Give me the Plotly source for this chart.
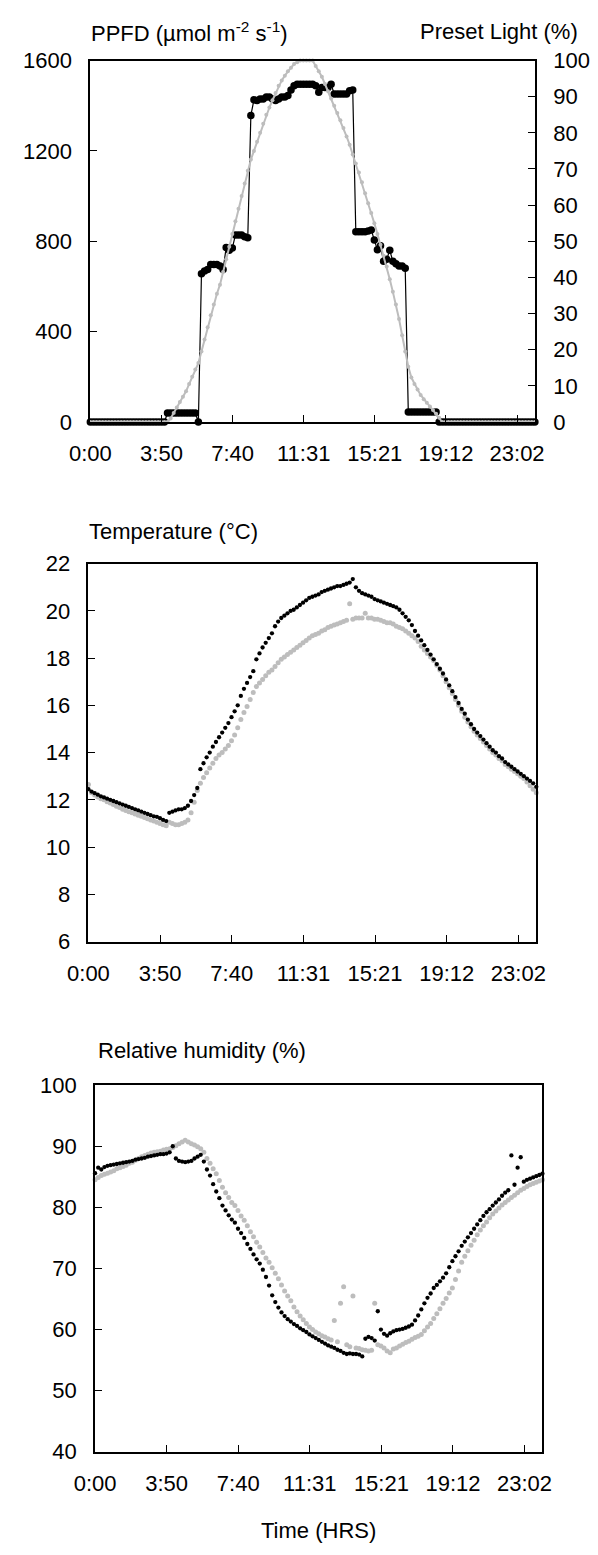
import plotly.graph_objects as go

# ---------------- data (10-minute samples, one row per hour) ----------------
MINUTES = list(range(0, 1441, 10))

TICK_MIN = [0, 230.4, 460.8, 691.2, 921.6, 1152, 1382.4]
TICK_TEXT = ["0:00", "3:50", "7:40", "11:31", "15:21", "19:12", "23:02"]

PPFD = [
    0, 0, 0, 0, 0, 0,
    0, 0, 0, 0, 0, 0,
    0, 0, 0, 0, 0, 0,
    0, 0, 0, 0, 0, 0,
    0, 40, 40, 40, 40, 40,
    40, 40, 40, 40, 40, 0,
    656, 668, 675, 697, 697, 697,
    690, 675, 772, 760, 770, 828,
    828, 828, 820, 816, 1357, 1426,
    1423, 1430, 1430, 1438, 1438, 1430,
    1423, 1430, 1438, 1438, 1445, 1470,
    1488, 1495, 1495, 1495, 1495, 1495,
    1495, 1488, 1459, 1481, 1481, 1481,
    1495, 1452, 1452, 1452, 1452, 1452,
    1466, 1470, 842, 842, 842, 842,
    845, 850, 806, 762, 780, 711,
    720, 760, 711, 700, 690, 690,
    680, 44, 44, 44, 44, 44,
    44, 44, 44, 44, 44, 0,
    0, 0, 0, 0, 0, 0,
    0, 0, 0, 0, 0, 0,
    0, 0, 0, 0, 0, 0,
    0, 0, 0, 0, 0, 0,
    0, 0, 0, 0, 0, 0,
    0,
]

PRESET_LIGHT = [
    0, 0, 0, 0, 0, 0,
    0, 0, 0, 0, 0, 0,
    0, 0, 0, 0, 0, 0,
    0, 0, 0, 0, 0, 0,
    0, 0, 1, 2.5, 4, 5.5,
    7, 8.5, 10.5, 12.5, 14.5, 16.3,
    19.5, 22.8, 26.2, 29.5, 32.5, 35.5,
    38, 41.5, 45, 48.5, 52, 55.5,
    59, 62.5, 66, 69.5, 72.6, 75,
    77.5, 80, 82.5, 85, 87, 89,
    91, 93, 94.5, 95.8, 97, 98,
    99, 99.5, 100, 100, 100, 100,
    100, 98.5, 97, 95.5, 93.5, 91.5,
    89.5, 87.5, 85.5, 83.5, 81.3, 79,
    76.7, 74, 71.5, 69, 66.3, 63.3,
    60.5, 57.8, 55, 52, 49, 46,
    43, 39.5, 36, 32.5, 28.5, 24,
    19.5, 15.3, 12.3, 10.5, 9, 7.5,
    6.3, 5.3, 4.3, 3.3, 2.3, 1.2,
    0, 0, 0, 0, 0, 0,
    0, 0, 0, 0, 0, 0,
    0, 0, 0, 0, 0, 0,
    0, 0, 0, 0, 0, 0,
    0, 0, 0, 0, 0, 0,
    0,
]

TEMP_BLACK = [
    12.45, 12.35, 12.28, 12.22, 12.15, 12.1,
    12.05, 12.0, 11.95, 11.9, 11.85, 11.8,
    11.75, 11.7, 11.65, 11.6, 11.55, 11.5,
    11.45, 11.4, 11.35, 11.3, 11.28, 11.22,
    11.15, 11.1, 11.45, 11.5, 11.55, 11.6,
    11.6, 11.65, 11.75, 11.95, 12.2, 12.5,
    13.3, 13.55, 13.8, 14.0, 14.25, 14.45,
    14.65, 14.85, 15.05, 15.25, 15.5, 15.75,
    16.0, 16.4, 16.7, 16.95, 17.2, 17.45,
    17.95, 18.2, 18.45, 18.65, 18.85, 19.05,
    19.35, 19.55, 19.7, 19.8, 19.9, 20.0,
    20.05, 20.15, 20.25, 20.35, 20.45, 20.55,
    20.6, 20.65, 20.7, 20.8, 20.85, 20.9,
    20.95, 21.0, 21.05, 21.05, 21.1, 21.15,
    21.2, 21.35, 21.0, 20.85, 20.75, 20.7,
    20.65, 20.6, 20.5, 20.45, 20.4, 20.35,
    20.3, 20.25, 20.2, 20.15, 20.05, 19.9,
    19.75, 19.6, 19.4, 19.15, 18.95, 18.75,
    18.55, 18.35, 18.15, 17.95, 17.75, 17.55,
    17.35, 17.1, 16.85, 16.6, 16.35, 16.1,
    15.85, 15.65, 15.4, 15.2, 15.0, 14.85,
    14.7, 14.55, 14.4, 14.25, 14.1, 14.0,
    13.85, 13.75, 13.6, 13.5, 13.4, 13.3,
    13.2, 13.1, 13.0, 12.9, 12.8, 12.7,
    12.55,
]

TEMP_GREY = [
    12.65, 12.3, 12.2, 12.12, 12.05, 12.0,
    11.92, 11.87, 11.8, 11.73, 11.67, 11.6,
    11.55, 11.5, 11.45, 11.4, 11.35, 11.3,
    11.25, 11.2, 11.15, 11.1, 11.05, 11.0,
    10.95, 10.9, 11.05, 11.0, 10.95, 10.95,
    11.0, 11.05, 11.15, 11.45, 11.9, 12.4,
    12.7, 12.95, 13.15, 13.35, 13.55, 13.75,
    13.9, 14.0, 14.15, 14.3, 14.5, 14.75,
    15.05, 15.4, 15.7, 15.95, 16.25, 16.55,
    16.8, 16.95, 17.1, 17.25, 17.4, 17.5,
    17.65, 17.8, 17.95, 18.05, 18.15, 18.25,
    18.35, 18.45, 18.55, 18.65, 18.75, 18.85,
    18.95, 19.0, 19.05, 19.15, 19.2, 19.3,
    19.35, 19.4, 19.45, 19.5, 19.55, 19.6,
    20.3, 19.65, 19.7, 19.7, 19.7, 19.9,
    19.7, 19.7, 19.65, 19.65, 19.6, 19.55,
    19.5, 19.5, 19.45, 19.35, 19.3, 19.25,
    19.15, 19.05, 18.95, 18.85, 18.7, 18.5,
    18.35, 18.2, 18.05, 17.9, 17.7, 17.5,
    17.25, 17.0, 16.75, 16.5, 16.25, 16.0,
    15.75, 15.5, 15.3, 15.1, 14.9, 14.75,
    14.6, 14.45, 14.3, 14.15, 14.0, 13.9,
    13.75, 13.65, 13.5, 13.4, 13.3, 13.2,
    13.1, 13.0, 12.9, 12.75, 12.6, 12.45,
    12.3,
]

RH_BLACK = [
    85.6, 86.5, 86.2, 86.6, 86.8, 86.9,
    87.0, 87.1, 87.2, 87.3, 87.4, 87.5,
    87.6, 87.8, 87.9, 88.0, 88.1, 88.3,
    88.4, 88.5, 88.6, 88.7, 88.7, 88.8,
    89.0, 90.0, 88.0, 87.6, 87.5, 87.4,
    87.5, 87.6, 88.0, 88.3, 88.6, 87.5,
    86.2, 85.2, 83.8, 82.6, 81.5, 80.3,
    79.5, 78.7, 78.0, 77.5, 76.5, 75.8,
    75.0, 74.0, 73.2, 72.3, 71.5, 70.8,
    69.8, 68.6, 67.2, 65.6, 64.5, 63.6,
    62.8, 62.2, 61.7, 61.3, 60.9, 60.6,
    60.2, 59.9, 59.6, 59.2, 58.9, 58.6,
    58.3, 58.0, 57.7, 57.4, 57.2, 57.0,
    56.7, 56.5, 56.2, 56.0, 56.1, 56.0,
    56.0, 55.9, 55.6, 58.5, 58.8, 58.6,
    58.2, 63.0, 60.0, 59.3, 59.0, 59.4,
    59.7, 59.9, 60.0, 60.1, 60.3, 60.5,
    60.8, 61.5, 62.3, 63.3, 64.3, 65.2,
    65.9, 66.8, 67.3, 67.9, 68.5, 69.2,
    70.2, 71.2, 72.0, 72.8, 73.7, 74.4,
    75.1, 75.8, 76.5, 77.2, 77.9, 78.6,
    79.2, 79.7, 80.3, 80.8, 81.3, 81.9,
    82.4, 82.8, 88.5, 83.7, 86.5, 88.2,
    84.2, 84.5, 84.7, 84.9, 85.1, 85.3,
    85.5,
]

RH_GREY = [
    84.5, 84.9, 85.2, 85.4, 85.6, 85.8,
    86.0, 86.3, 86.5, 86.7, 86.9, 87.2,
    87.4, 87.7, 88.0, 88.3, 88.5, 88.7,
    88.9, 89.0, 89.1, 89.2, 89.4, 89.5,
    89.6, 89.8, 90.1, 90.4, 90.7, 91.0,
    90.7, 90.4, 90.2, 89.9, 89.6, 89.0,
    88.0, 87.2, 86.3, 85.5, 84.4, 83.3,
    82.4, 81.6, 80.8, 80.3, 79.5, 78.6,
    77.9, 77.0, 76.0, 75.2, 74.3, 73.5,
    72.6, 71.7, 71.0, 70.1, 69.2, 68.3,
    67.3, 66.3, 65.5, 64.7, 63.7, 62.9,
    62.2, 61.6, 61.0, 60.4, 60.0, 59.6,
    59.3, 59.0, 58.8, 58.5, 58.3, 61.5,
    58.0, 64.3, 67.0, 57.5, 57.2, 65.5,
    57.0, 56.9, 56.7, 56.6, 56.5, 56.6,
    64.3, 57.5, 57.3, 57.0, 56.5, 56.2,
    56.8, 57.0, 57.3, 57.6, 57.9, 58.1,
    58.4, 58.7, 58.9, 59.2, 59.8, 60.4,
    61.0, 61.8, 62.6, 63.4, 64.3, 65.1,
    66.0, 66.8, 68.2, 69.6, 71.0, 72.0,
    72.9, 73.8, 74.6, 75.5, 76.3, 77.0,
    77.6, 78.3, 78.9, 79.4, 79.9, 80.4,
    80.8, 81.2, 81.6, 82.0, 82.4, 82.8,
    83.1, 83.4, 83.7, 83.9, 84.1, 84.3,
    84.5,
]

# ---------------- styling ----------------
FONT = "Liberation Sans, Arial, sans-serif"
FS = 22
BLACK = "#000000"
GREY = "#bdbdbd"
W, H = 598, 1555


def px_x(v):
    return v / W


def px_y(v):
    return 1 - v / H


fig = go.Figure()

# Panel 1 -------------------------------------------------------------
fig.add_trace(go.Scatter(
    x=MINUTES, y=PPFD, mode="lines+markers", xaxis="x", yaxis="y",
    line=dict(color=BLACK, width=1.2),
    marker=dict(color=BLACK, size=7.5), cliponaxis=False, showlegend=False))
fig.add_trace(go.Scatter(
    x=MINUTES, y=PRESET_LIGHT, mode="lines+markers", xaxis="x", yaxis="y2",
    line=dict(color=GREY, width=2),
    marker=dict(color=GREY, size=4), cliponaxis=False, showlegend=False))

# Panel 2 -------------------------------------------------------------
fig.add_trace(go.Scatter(
    x=MINUTES, y=TEMP_GREY, mode="markers", xaxis="x2", yaxis="y3",
    marker=dict(color=GREY, size=5), cliponaxis=False, showlegend=False))
fig.add_trace(go.Scatter(
    x=MINUTES, y=TEMP_BLACK, mode="markers", xaxis="x2", yaxis="y3",
    marker=dict(color=BLACK, size=4.3), cliponaxis=False, showlegend=False))

# Panel 3 -------------------------------------------------------------
fig.add_trace(go.Scatter(
    x=MINUTES, y=RH_GREY, mode="markers", xaxis="x3", yaxis="y4",
    marker=dict(color=GREY, size=5), cliponaxis=False, showlegend=False))
fig.add_trace(go.Scatter(
    x=MINUTES, y=RH_BLACK, mode="markers", xaxis="x3", yaxis="y4",
    marker=dict(color=BLACK, size=4.3), cliponaxis=False, showlegend=False))

common = dict(showline=True, linecolor=BLACK, linewidth=1.8, mirror=True,
              showgrid=False, zeroline=False, ticks="inside", ticklen=7,
              tickwidth=1.3, tickcolor=BLACK,
              tickfont=dict(family=FONT, size=FS, color=BLACK))

xcommon = dict(common, range=[0, 1440], tickmode="array",
               tickvals=TICK_MIN, ticktext=TICK_TEXT, ticklabelstandoff=11)

fig.update_layout(
    width=W, height=H, margin=dict(l=0, r=0, t=0, b=0),
    plot_bgcolor="white", paper_bgcolor="white",
    font=dict(family=FONT, size=FS, color=BLACK),
    xaxis=dict(xcommon, domain=[px_x(73), px_x(541)], anchor="y"),
    yaxis=dict(common, domain=[px_y(416.7), px_y(49.3)], anchor="x",
               range=[0, 1600], dtick=400, ticklabelstandoff=12),
    yaxis2=dict(common, overlaying="y", side="right", anchor="x",
                range=[0, 100], dtick=10, mirror=False, ticklabelstandoff=12),
    xaxis2=dict(xcommon, domain=[px_x(71), px_x(542.5)], anchor="y3"),
    yaxis3=dict(common, domain=[px_y(944.7), px_y(560.7)], anchor="x2",
                range=[6, 22], dtick=2, ticklabelstandoff=12),
    xaxis3=dict(xcommon, domain=[px_x(78), px_x(549)], anchor="y4"),
    yaxis4=dict(common, domain=[px_y(1463.3), px_y(1090.7)], anchor="x3",
                range=[40, 100], dtick=10, ticklabelstandoff=12),
)

ann = [
    dict(text="PPFD (µmol m<sup>-2</sup> s<sup>-1</sup>)", x=px_x(72), y=px_y(20),
         xanchor="left"),
    dict(text="Preset Light (%)", x=px_x(589), y=px_y(20), xanchor="right"),
    dict(text="Temperature (°C)", x=px_x(70), y=px_y(528), xanchor="left"),
    dict(text="Relative humidity (%)", x=px_x(79), y=px_y(1055), xanchor="left"),
    dict(text="Time (HRS)", x=px_x(313), y=px_y(1543), xanchor="center"),
]
for a in ann:
    fig.add_annotation(xref="paper", yref="paper", yanchor="middle",
                       showarrow=False, font=dict(family=FONT, size=FS, color=BLACK),
                       **a)

fig.write_html("out.html")
